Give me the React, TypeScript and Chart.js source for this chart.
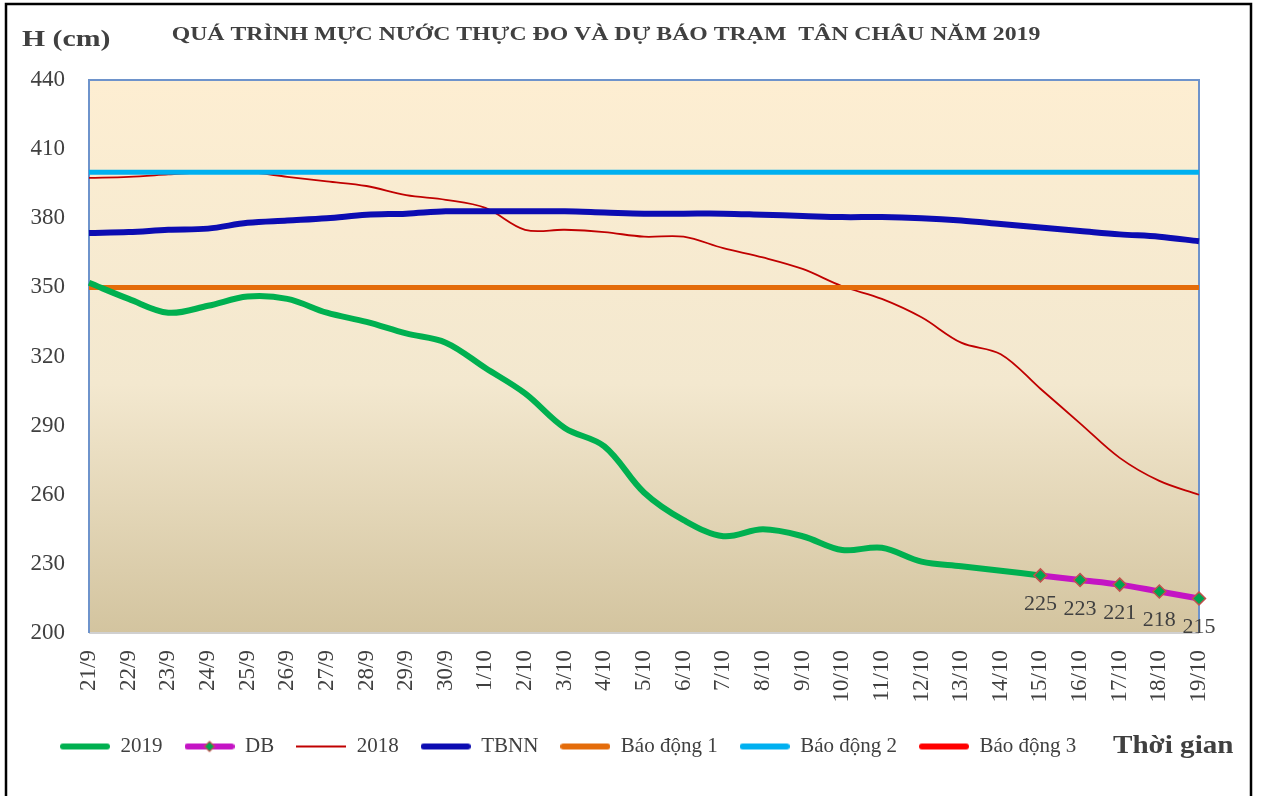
import React, { useEffect, useRef } from "react";
import { Chart, registerables } from "chart.js";

Chart.register(...registerables);

const labels = [
  "21/9", "22/9", "23/9", "24/9", "25/9", "26/9", "27/9", "28/9", "29/9", "30/9",
  "1/10", "2/10", "3/10", "4/10", "5/10", "6/10", "7/10", "8/10", "9/10", "10/10",
  "11/10", "12/10", "13/10", "14/10", "15/10", "16/10", "17/10", "18/10", "19/10",
];

const series2019 = [
  352, 345, 339, 342, 346, 345, 339, 335, 330, 326,
  315, 304, 289, 281, 261, 249, 242, 245, 242, 236,
  237, 231, 229, 227, 225, null, null, null, null,
];

const seriesDB = [
  null, null, null, null, null, null, null, null, null, null,
  null, null, null, null, null, null, null, null, null, null,
  null, null, null, null, 225, 223, 221, 218, 215,
];

const series2018 = [
  397.5, 398, 399, 400, 400, 398, 396, 394, 390, 388,
  384.5, 375, 375, 374, 372, 372, 367, 363, 358, 350.5,
  345, 337, 326, 321, 306, 291, 276, 266, 260,
];

const seriesTBNN = [
  373.6, 374, 375, 375.5, 378, 379, 380, 381.5, 382, 383,
  383, 383, 383, 382.5, 382, 382, 382, 381.5, 381, 380.5,
  380.5, 380, 379, 377.5, 376, 374.5, 373, 372, 370,
];

const ALARM_1 = 350;
const ALARM_2 = 400;
const ALARM_3 = 450;

const yTicks = [200, 230, 260, 290, 320, 350, 380, 410, 440];

const TITLE = "QUÁ TRÌNH MỰC NƯỚC THỰC ĐO VÀ DỰ BÁO TRẠM  TÂN CHÂU NĂM 2019";
const Y_TITLE = "H (cm)";
const X_TITLE = "Thời gian";

const FONT = "'Liberation Serif', 'Times New Roman', serif";
const TEXT = "#404040";

function legendSwatch(color: string, width: number, marker: boolean) {
  const c = document.createElement("canvas");
  c.width = 50;
  c.height = 16;
  const ctx = c.getContext("2d")!;
  ctx.strokeStyle = color;
  ctx.lineWidth = width;
  ctx.lineCap = width > 3 ? "round" : "butt";
  ctx.beginPath();
  ctx.moveTo(width > 3 ? 3 : 0, 8);
  ctx.lineTo(width > 3 ? 47 : 50, 8);
  ctx.stroke();
  if (marker) {
    ctx.beginPath();
    ctx.moveTo(25, 3);
    ctx.lineTo(30, 8);
    ctx.lineTo(25, 13);
    ctx.lineTo(20, 8);
    ctx.closePath();
    ctx.fillStyle = "#00A550";
    ctx.fill();
    ctx.strokeStyle = "#C0504D";
    ctx.lineWidth = 1.2;
    ctx.stroke();
  }
  return c;
}

const decorPlugin = {
  id: "decor",
  afterLayout(chart: any) {
    // legend row starts a little right of the page edge, like the reference
    if (chart.legend) chart.legend.left = 38;
  },
  beforeDraw(chart: any) {
    const { ctx, chartArea: a } = chart;
    ctx.save();
    const g = ctx.createLinearGradient(0, a.top, 0, a.bottom);
    g.addColorStop(0, "#FDEED2");
    g.addColorStop(0.55, "#F3E8CF");
    g.addColorStop(1, "#D3C49F");
    ctx.fillStyle = g;
    ctx.fillRect(a.left, a.top, a.right - a.left, a.bottom - a.top);
    ctx.restore();
  },
  beforeDatasetsDraw(chart: any) {
    const { ctx, chartArea: a } = chart;
    ctx.save();
    ctx.lineWidth = 2;
    ctx.strokeStyle = "#D0D0D0";
    ctx.beginPath();
    ctx.moveTo(a.left, a.bottom);
    ctx.lineTo(a.right, a.bottom);
    ctx.stroke();
    ctx.strokeStyle = "#6E93CB";
    ctx.beginPath();
    ctx.moveTo(a.left, a.bottom);
    ctx.lineTo(a.left, a.top);
    ctx.lineTo(a.right, a.top);
    ctx.lineTo(a.right, a.bottom);
    ctx.stroke();
    ctx.restore();
  },
  afterDatasetsDraw(chart: any) {
    const { ctx } = chart;
    const idx = chart.data.datasets.findIndex((d: any) => d.label === "DB");
    const meta = chart.getDatasetMeta(idx);
    const data = chart.data.datasets[idx].data;
    ctx.save();
    ctx.font = `22px ${FONT}`;
    ctx.fillStyle = TEXT;
    ctx.textAlign = "center";
    ctx.textBaseline = "middle";
    meta.data.forEach((pt: any, i: number) => {
      const v = data[i];
      if (v === null || v === undefined) return;
      ctx.fillText(String(v), pt.x, pt.y + 29);
    });
    ctx.restore();
  },
  afterDraw(chart: any) {
    const { ctx } = chart;
    ctx.save();
    ctx.fillStyle = TEXT;
    ctx.textBaseline = "middle";
    // title
    ctx.font = `bold 19px ${FONT}`;
    ctx.textAlign = "center";
    ctx.save();
    ctx.translate(606, 35);
    ctx.scale(1.25, 1);
    ctx.fillText(TITLE, 0, 0);
    ctx.restore();
    // y title
    ctx.font = `bold 24px ${FONT}`;
    ctx.textAlign = "left";
    ctx.save();
    ctx.translate(22, 40);
    ctx.scale(1.24, 1);
    ctx.fillText(Y_TITLE, 0, 0);
    ctx.restore();
    // x title
    ctx.font = `bold 26px ${FONT}`;
    ctx.save();
    ctx.translate(1113, 746);
    ctx.scale(1.12, 1);
    ctx.fillText(X_TITLE, 0, 0);
    ctx.restore();
    // outer frame
    ctx.strokeStyle = "#000";
    ctx.lineWidth = 2.5;
    ctx.strokeRect(6, 4, 1245, 800);
    ctx.restore();
  },
};

export default function App() {
  const ref = useRef<HTMLCanvasElement | null>(null);

  useEffect(() => {
    if (!ref.current) return;
    const datasets: any[] = [
      {
        label: "2019",
        data: series2019,
        borderColor: "#00B050",
        backgroundColor: "#00B050",
        borderWidth: 6,
        pointRadius: 0,
        tension: 0.35,
        order: 0,
        swatch: legendSwatch("#00B050", 6, false),
      },
      {
        label: "DB",
        data: seriesDB,
        borderColor: "#C414C4",
        backgroundColor: "#C414C4",
        borderWidth: 6,
        pointStyle: "rectRot",
        pointRadius: 6.5,
        pointBackgroundColor: "#00A550",
        pointBorderColor: "#C0504D",
        pointBorderWidth: 1.5,
        tension: 0.35,
        order: -1,
        swatch: legendSwatch("#C414C4", 6, true),
      },
      {
        label: "2018",
        data: series2018,
        borderColor: "#C00000",
        backgroundColor: "#C00000",
        borderWidth: 1.8,
        pointRadius: 0,
        tension: 0.35,
        order: 4,
        swatch: legendSwatch("#C00000", 2, false),
      },
      {
        label: "TBNN",
        data: seriesTBNN,
        borderColor: "#0C0CB2",
        backgroundColor: "#0C0CB2",
        borderWidth: 6,
        pointRadius: 0,
        tension: 0.35,
        order: 3,
        swatch: legendSwatch("#0C0CB2", 6, false),
      },
      {
        label: "Báo động 1",
        data: labels.map(() => ALARM_1),
        borderColor: "#E46C0A",
        backgroundColor: "#E46C0A",
        borderWidth: 5,
        pointRadius: 0,
        order: 2,
        swatch: legendSwatch("#E46C0A", 6, false),
      },
      {
        label: "Báo động 2",
        data: labels.map(() => ALARM_2),
        borderColor: "#00B0F0",
        backgroundColor: "#00B0F0",
        borderWidth: 5,
        pointRadius: 0,
        order: 1,
        swatch: legendSwatch("#00B0F0", 6, false),
      },
      {
        label: "Báo động 3",
        data: labels.map(() => ALARM_3),
        borderColor: "#FF0000",
        backgroundColor: "#FF0000",
        borderWidth: 5,
        pointRadius: 0,
        order: 1,
        swatch: legendSwatch("#FF0000", 6, false),
      },
    ];

    const chart = new Chart(ref.current, {
      type: "line",
      data: { labels, datasets },
      options: {
        responsive: false,
        animation: false,
        devicePixelRatio: 1,
        layout: { padding: { left: 10, right: 62, top: 80, bottom: 29 } },
        scales: {
          x: {
            type: "category",
            offset: false,
            grid: { display: false },
            border: { display: false },
            ticks: {
              autoSkip: false,
              maxRotation: 90,
              minRotation: 90,
              padding: 9,
              color: TEXT,
              font: { family: FONT, size: 23 },
            },
            afterFit: (s: any) => {
              s.height = 81;
            },
          },
          y: {
            min: 200,
            max: 440,
            afterBuildTicks: (s: any) => {
              s.ticks = yTicks.map((v) => ({ value: v }));
            },
            grid: { display: false },
            border: { display: false },
            ticks: {
              padding: 16,
              color: TEXT,
              font: { family: FONT, size: 23 },
            },
            afterFit: (s: any) => {
              s.width = 79;
            },
          },
        },
        plugins: {
          tooltip: { enabled: false },
          title: { display: false },
          legend: {
            position: "bottom",
            align: "start",
            labels: {
              usePointStyle: true,
              pointStyleWidth: 50,
              padding: 22,
              color: TEXT,
              font: { family: FONT, size: 21 },
              generateLabels: (c: any) =>
                c.data.datasets.map((d: any, i: number) => ({
                  text: d.label,
                  fillStyle: d.borderColor,
                  strokeStyle: d.borderColor,
                  lineWidth: 0,
                  pointStyle: d.swatch,
                  hidden: false,
                  datasetIndex: i,
                  fontColor: TEXT,
                })),
            },
          },
        },
      },
      plugins: [decorPlugin],
    } as any);

    return () => chart.destroy();
  }, []);

  return (
    <div style={{ position: "absolute", left: 0, top: 0, width: 1261, height: 796, background: "#fff" }}>
      <canvas ref={ref} width={1261} height={796} style={{ display: "block" }} />
    </div>
  );
}
